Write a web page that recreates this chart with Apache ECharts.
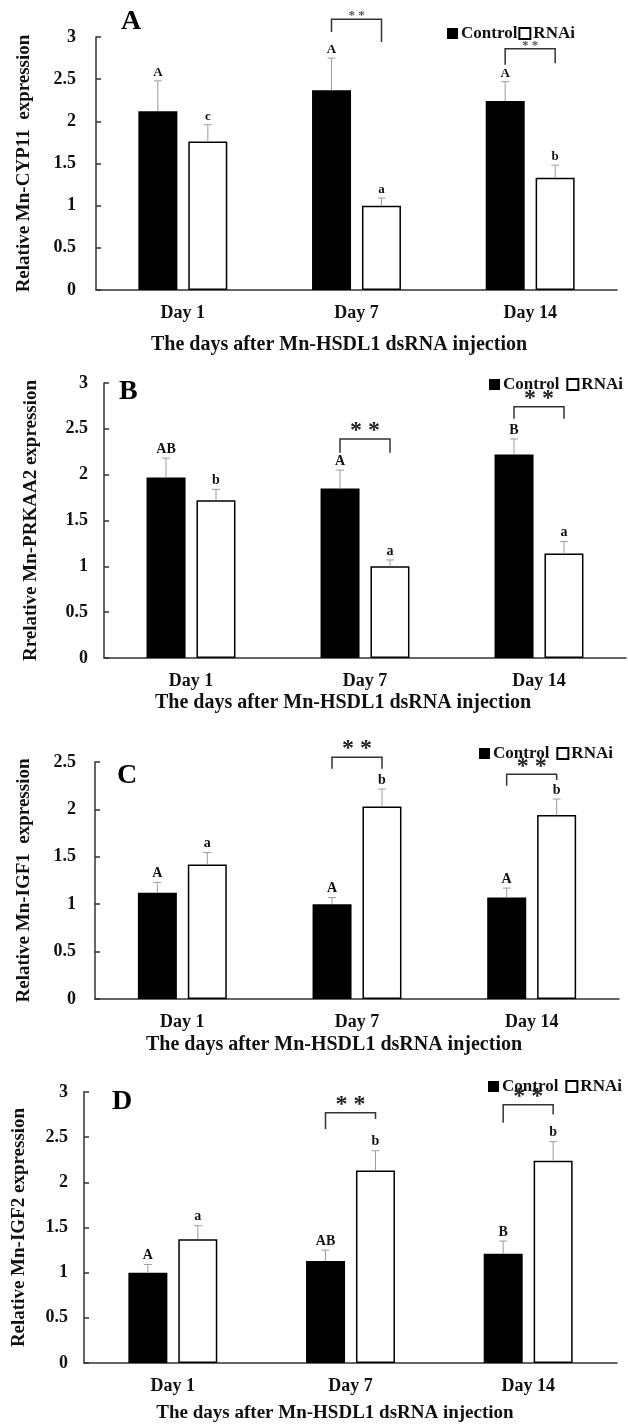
<!DOCTYPE html>
<html><head><meta charset="utf-8">
<script src="https://cdn.jsdelivr.net/npm/echarts@6/dist/echarts.min.js"></script>
<style>html,body{margin:0;padding:0;background:#fff}#c{width:628px;height:1424px}</style>
</head><body><div id="c"></div>
<script>
// ---------- DATA ----------
const categories = ['Day 1', 'Day 7', 'Day 14'];
const seriesNames = ['Control', 'RNAi'];
const xTitle = 'The days after Mn-HSDL1 dsRNA injection';

// Panel A: Mn-CYP11
const cypControl = [2.12, 2.37, 2.24];
const cypControlErr = [0.36, 0.38, 0.23];
const cypRnai = [1.76, 1.00, 1.33];
const cypRnaiErr = [0.20, 0.09, 0.15];
const cypControlLetters = ['A', 'A', 'A'];
const cypRnaiLetters = ['c', 'a', 'b'];
// brackets: [category index, top, left leg end, right leg end]
const cypBrackets = [[1, 3.21, 3.06, 2.94], [2, 2.86, 2.67, 2.69]];

// Panel B: Mn-PRKAA2
const prkControl = [1.97, 1.85, 2.22];
const prkControlErr = [0.21, 0.20, 0.17];
const prkRnai = [1.72, 1.00, 1.14];
const prkRnaiErr = [0.12, 0.07, 0.13];
const prkControlLetters = ['AB', 'A', 'B'];
const prkRnaiLetters = ['b', 'a', 'a'];
const prkBrackets = [[1, 2.39, 2.24, 2.24], [2, 2.74, 2.61, 2.61]];

// Panel C: Mn-IGF1
const igf1Control = [1.12, 1.00, 1.07];
const igf1ControlErr = [0.11, 0.07, 0.10];
const igf1Rnai = [1.42, 2.03, 1.94];
const igf1RnaiErr = [0.125, 0.185, 0.17];
const igf1ControlLetters = ['A', 'A', 'A'];
const igf1RnaiLetters = ['a', 'b', 'b'];
const igf1Brackets = [[1, 2.55, 2.43, 2.43], [2, 2.37, 2.25, 2.31]];

// Panel D: Mn-IGF2
const igf2Control = [1.00, 1.13, 1.21];
const igf2ControlErr = [0.09, 0.12, 0.14];
const igf2Rnai = [1.37, 2.13, 2.24];
const igf2RnaiErr = [0.15, 0.22, 0.21];
const igf2ControlLetters = ['A', 'AB', 'B'];
const igf2RnaiLetters = ['a', 'b', 'b'];
const igf2Brackets = [[1, 2.77, 2.59, 2.70], [2, 2.86, 2.66, 2.75]];

const yTicksMax = [3, 3, 2.5, 3];
const yNames = ['Relative Mn-CYP11  expression', 'Rrelative Mn-PRKAA2 expression',
                'Relative Mn-IGF1  expression', 'Relative Mn-IGF2 expression'];
const panelLetters = ['A', 'B', 'C', 'D'];

// ---------- LAYOUT / STYLE ----------
const FF = "'Liberation Serif','Times New Roman',serif";
const panels = [
  {grid:{left:96, top:37, width:521, height:253}, ctrl:cypControl, ce:cypControlErr, rn:cypRnai, re:cypRnaiErr,
   cl:cypControlLetters, rl:cypRnaiLetters, br:cypBrackets, smallStars:true, letterSize:13,
   legend:{left:447, top:25, itemGap:1}, nameGap:62, labelMargin:20, letterPos:[121,8], titlePos:[339,345], titleSize:20},
  {grid:{left:104, top:383, width:522, height:275}, ctrl:prkControl, ce:prkControlErr, rn:prkRnai, re:prkRnaiErr,
   cl:prkControlLetters, rl:prkRnaiLetters, br:prkBrackets, smallStars:false, letterSize:14,
   legend:{left:489, top:376, itemGap:7}, nameGap:63, labelMargin:16, letterPos:[119,378], titlePos:[343,703], titleSize:20},
  {grid:{left:95, top:762, width:524, height:237}, ctrl:igf1Control, ce:igf1ControlErr, rn:igf1Rnai, re:igf1RnaiErr,
   cl:igf1ControlLetters, rl:igf1RnaiLetters, br:igf1Brackets, smallStars:false, letterSize:14,
   legend:{left:479, top:745, itemGap:7}, nameGap:61, labelMargin:19, letterPos:[117,762], titlePos:[334,1045], titleSize:20},
  {grid:{left:84, top:1092, width:533, height:271}, ctrl:igf2Control, ce:igf2ControlErr, rn:igf2Rnai, re:igf2RnaiErr,
   cl:igf2ControlLetters, rl:igf2RnaiLetters, br:igf2Brackets, smallStars:false, letterSize:14,
   legend:{left:488, top:1078, itemGap:7}, nameGap:55, labelMargin:16, letterPos:[112,1088], titlePos:[335,1413], titleSize:19}
];
const BAR_W = 39, BAR_GAP = '28%', OFF = 25;

function errRender(off, letters, fs) {
  return function (params, api) {
    const i = api.value(0), v = api.value(1), e = api.value(2);
    const p0 = api.coord([i, v]), p1 = api.coord([i, v + e]);
    const x = p0[0] + off;
    return {type:'group', children:[
      {type:'line', shape:{x1:x, y1:p0[1], x2:x, y2:p1[1]}, style:{stroke:'#9c9c9c', lineWidth:1}},
      {type:'line', shape:{x1:x-4, y1:p1[1], x2:x+4, y2:p1[1]}, style:{stroke:'#9c9c9c', lineWidth:1}},
      {type:'text', x:x, y:p1[1]-2, style:{text:letters[params.dataIndex], font:'bold '+fs+'px '+FF,
        fill:'#111', align:'center', verticalAlign:'bottom'}}
    ]};
  };
}
function bracketRender(small) {
  return function (params, api) {
    const i = api.value(0);
    const pt = api.coord([i, api.value(1)]);
    const yl = api.coord([i, api.value(2)])[1], yr = api.coord([i, api.value(3)])[1];
    const lx = pt[0] - OFF, rx = pt[0] + OFF;
    return {type:'group', children:[
      {type:'polyline', shape:{points:[[lx, yl], [lx, pt[1]], [rx, pt[1]], [rx, yr]]},
        style:{stroke:'#333', lineWidth:1.5, fill:null}},
      {type:'text', x:pt[0], y: small ? pt[1]+3 : pt[1]+4,
        style:{text:'* *', font: small ? 'bold 13px '+FF : 'bold 24px '+FF,
          fill: small ? '#555' : '#222', align:'center', verticalAlign:'bottom'}}
    ]};
  };
}

const option = {animation:false, backgroundColor:'#fff', grid:[], xAxis:[], yAxis:[], series:[], legend:[], graphic:[]};
panels.forEach((p, k) => {
  option.grid.push(p.grid);
  option.xAxis.push({type:'category', gridIndex:k, data:categories,
    axisLine:{lineStyle:{color:'#333', width:1.5}},
    axisTick:{inside:true, length:5, lineStyle:{color:'#333', width:1.5}},
    axisLabel:{color:'#111', fontFamily:FF, fontWeight:'bold', fontSize:18, margin:14}});
  option.yAxis.push({type:'value', gridIndex:k, min:0, max:yTicksMax[k], interval:0.5,
    name:yNames[k], nameLocation:'middle', nameGap:p.nameGap, nameRotate:90,
    nameTextStyle:{color:'#111', fontFamily:FF, fontWeight:'bold', fontSize:19},
    axisLine:{show:true, lineStyle:{color:'#333', width:1.5}},
    axisTick:{show:true, inside:true, length:5, lineStyle:{color:'#333', width:1.5}},
    splitLine:{show:false},
    axisLabel:{color:'#111', fontFamily:FF, fontWeight:'bold', fontSize:18, margin:p.labelMargin}});
  option.series.push(
    {type:'bar', name:seriesNames[0], xAxisIndex:k, yAxisIndex:k, data:p.ctrl, barWidth:BAR_W, barGap:BAR_GAP,
     itemStyle:{color:'#000'}},
    {type:'bar', name:seriesNames[1], xAxisIndex:k, yAxisIndex:k, data:p.rn, barWidth:BAR_W, barGap:BAR_GAP,
     itemStyle:{color:'#fff', borderColor:'#000', borderWidth:1.5}},
    {type:'custom', name:'errC'+k, xAxisIndex:k, yAxisIndex:k, z:5, clip:false,
     renderItem:errRender(-OFF, p.cl, p.letterSize), encode:{x:0, y:1},
     data:categories.map((c, i) => [i, p.ctrl[i], p.ce[i]])},
    {type:'custom', name:'errR'+k, xAxisIndex:k, yAxisIndex:k, z:5, clip:false,
     renderItem:errRender(OFF, p.rl, p.letterSize), encode:{x:0, y:1},
     data:categories.map((c, i) => [i, p.rn[i], p.re[i]])},
    {type:'custom', name:'br'+k, xAxisIndex:k, yAxisIndex:k, z:6, clip:false,
     renderItem:bracketRender(p.smallStars), encode:{x:0, y:1}, data:p.br}
  );
  option.legend.push({data:seriesNames, left:p.legend.left, top:p.legend.top, itemGap:p.legend.itemGap,
    icon:'rect', itemWidth:11, itemHeight:11, padding:0,
    textStyle:{color:'#111', fontFamily:FF, fontWeight:'bold', fontSize:17, padding:[0,0,0,-2]}});
  option.graphic.push(
    {type:'text', left:p.letterPos[0], top:p.letterPos[1],
     style:{text:panelLetters[k], font:'bold 28px '+FF, fill:'#000'}},
    {type:'text', x:p.titlePos[0], y:p.titlePos[1],
     style:{text:xTitle, font:'bold '+p.titleSize+'px '+FF, fill:'#111', align:'center', verticalAlign:'middle'}}
  );
});
const chart = echarts.init(document.getElementById('c'), null, {renderer:'canvas'});
chart.setOption(option);
</script></body></html>
